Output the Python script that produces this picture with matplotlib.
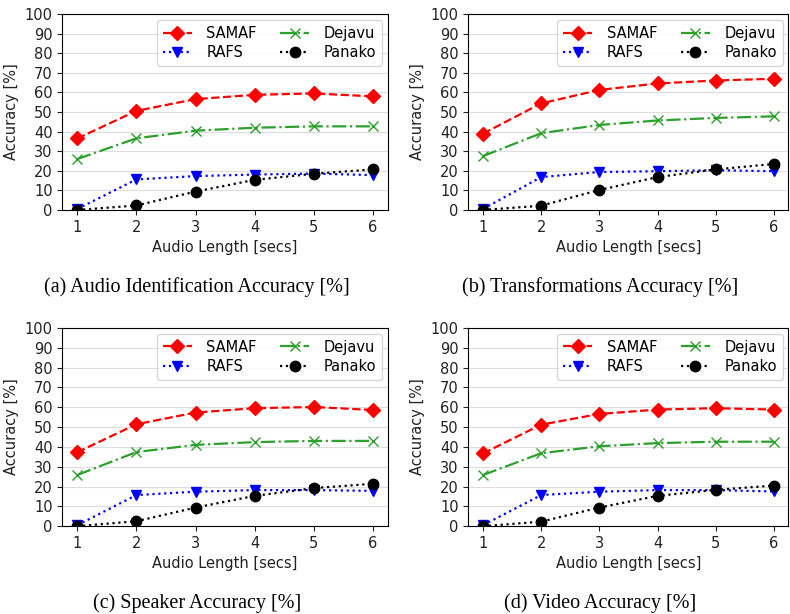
import numpy as np
import matplotlib
matplotlib.use('Agg')
import matplotlib.pyplot as plt

# audio length in seconds
lengths = [1, 2, 3, 4, 5, 6]

# (a) audio identification
samaf_a = [36.5, 50.6, 56.6, 58.8, 59.5, 58.0]
rafs_a = [0.5, 15.6, 17.3, 18.1, 18.6, 17.8]
dejavu_a = [26.0, 36.6, 40.5, 42.0, 42.7, 42.7]
panako_a = [0.0, 2.3, 9.4, 15.4, 18.5, 20.7]

# (b) transformations
samaf_b = [39.0, 54.4, 61.3, 64.6, 66.1, 67.0]
rafs_b = [0.5, 16.8, 19.4, 19.8, 20.3, 19.8]
dejavu_b = [27.5, 39.2, 43.4, 45.7, 47.0, 47.8]
panako_b = [0.0, 2.2, 10.2, 16.8, 20.7, 23.5]

# (c) speaker
samaf_c = [37.3, 51.4, 57.3, 59.5, 60.1, 58.6]
rafs_c = [0.5, 15.7, 17.4, 18.2, 18.2, 17.8]
dejavu_c = [25.8, 37.4, 41.0, 42.4, 43.0, 43.0]
panako_c = [0.0, 2.5, 9.4, 15.3, 19.2, 21.4]

# (d) video
samaf_d = [36.7, 51.2, 56.6, 58.8, 59.5, 58.8]
rafs_d = [0.5, 15.7, 17.4, 18.2, 18.2, 17.5]
dejavu_d = [25.8, 36.8, 40.3, 41.9, 42.6, 42.6]
panako_d = [0.0, 2.3, 9.4, 15.3, 18.3, 20.5]

captions = ['(a) Audio Identification Accuracy [%]',
            '(b) Transformations Accuracy [%]',
            '(c) Speaker Accuracy [%]',
            '(d) Video Accuracy [%]']

panels = [(samaf_a, rafs_a, dejavu_a, panako_a),
          (samaf_b, rafs_b, dejavu_b, panako_b),
          (samaf_c, rafs_c, dejavu_c, panako_c),
          (samaf_d, rafs_d, dejavu_d, panako_d)]

# axes boxes in figure fractions [left, bottom, width, height]
boxes = [[0.079, 0.658, 0.412, 0.319],
         [0.593, 0.658, 0.405, 0.319],
         [0.079, 0.143, 0.412, 0.323],
         [0.593, 0.143, 0.405, 0.323]]

fig = plt.figure(figsize=(7.9, 6.14), dpi=100)

for i in range(4):
    samaf, rafs, dejavu, panako = panels[i]
    ax = fig.add_axes(boxes[i])
    ax.plot(lengths, samaf, 'D--', color='red', lw=1.6, ms=7.5, label='SAMAF')
    ax.plot(lengths, rafs, 'v:', color='blue', lw=1.6, ms=7.5, label='RAFS')
    ax.plot(lengths, dejavu, 'x-.', color='#2ca02c', lw=1.6, ms=7, mew=1.0, label='Dejavu')
    ax.plot(lengths, panako, 'o:', color='black', lw=1.6, ms=7.5, label='Panako')
    ax.set_ylim(0, 100)
    ax.set_yticks(np.arange(0, 101, 10))
    ax.set_xticks(lengths)
    ax.yaxis.grid(True, color='#dddddd', lw=0.8)
    ax.set_axisbelow(True)
    ax.tick_params(labelsize=10.5, colors='#222222')
    ax.set_xlabel('Audio Length [secs]', fontsize=10.5, color='#222222')
    ax.set_ylabel('Accuracy [%]', fontsize=10.5, color='#222222')
    ax.legend(ncol=2, loc='upper right', fontsize=10.5, handlelength=2.0,
              handletextpad=1.0, columnspacing=1.6, labelspacing=0.3,
              borderaxespad=0.4)
    # subfigure caption
    bx = boxes[i]
    fig.text(bx[0] + bx[2] / 2 - 0.036, bx[1] - 0.126, captions[i],
             ha='center', va='center', fontsize=14.5, family='Liberation Serif')

fig.savefig('out.png', dpi=100)
